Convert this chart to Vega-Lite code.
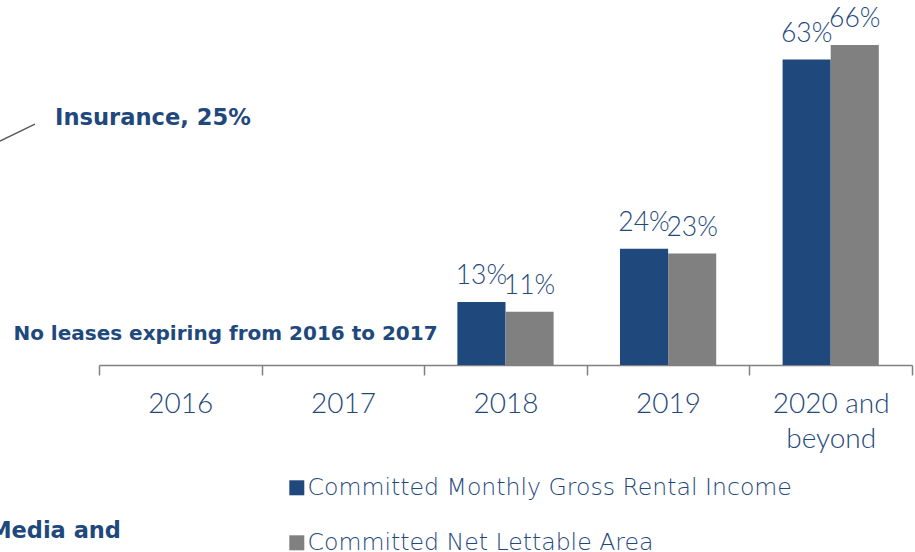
{
  "$schema": "https://vega.github.io/schema/vega-lite/v6.json",
  "autosize": {"type": "none"},
  "width": 813,
  "height": 365,
  "padding": {"left": 99, "top": 0, "right": 3, "bottom": 187},
  "background": "white",
  "config": {"view": {"stroke": null}, "font": "Lato"},
  "layer": [
    {
      "data": {"values": [
        {"period": "2016", "series": "Committed Monthly Gross Rental Income", "value": null},
        {"period": "2016", "series": "Committed Net Lettable Area", "value": null},
        {"period": "2017", "series": "Committed Monthly Gross Rental Income", "value": null},
        {"period": "2017", "series": "Committed Net Lettable Area", "value": null},
        {"period": "2018", "series": "Committed Monthly Gross Rental Income", "value": 0.13},
        {"period": "2018", "series": "Committed Net Lettable Area", "value": 0.11},
        {"period": "2019", "series": "Committed Monthly Gross Rental Income", "value": 0.24},
        {"period": "2019", "series": "Committed Net Lettable Area", "value": 0.23},
        {"period": "2020 and beyond", "series": "Committed Monthly Gross Rental Income", "value": 0.63},
        {"period": "2020 and beyond", "series": "Committed Net Lettable Area", "value": 0.66}
      ]},
      "encoding": {
        "x": {
          "field": "period", "type": "nominal",
          "sort": ["2016", "2017", "2018", "2019", "2020 and beyond"],
          "scale": {"padding": 0},
          "axis": {
            "title": null, "tickBand": "extent", "domainColor": "#808080", "tickColor": "#808080",
            "domainWidth": 1.5, "tickWidth": 1.5, "tickSize": 10, "labelAngle": 0,
            "labelFont": "Lato", "labelFontWeight": 300, "labelFontSize": 28, "labelColor": "#1F497D",
            "labelPadding": 15, "labelLineHeight": 35,
            "labelExpr": "datum.value == '2020 and beyond' ? ['2020 and', 'beyond'] : datum.value"
          }
        },
        "xOffset": {
          "field": "series", "type": "nominal",
          "scale": {"paddingInner": 0, "paddingOuter": 0.69}
        },
        "y": {
          "field": "value", "type": "quantitative",
          "scale": {"domain": [0, 0.753], "nice": false, "zero": true},
          "axis": null
        }
      },
      "layer": [
        {
          "mark": {"type": "bar"},
          "encoding": {
            "color": {
              "field": "series", "type": "nominal",
              "scale": {"range": ["#1F497D", "#808080"]},
              "legend": {
                "title": null, "orient": "none", "legendX": 186, "legendY": 476,
                "direction": "vertical", "symbolType": "square", "symbolSize": 225,
                "symbolStrokeWidth": 0, "symbolOpacity": 1,
                "labelFont": "DejaVu Sans", "labelFontWeight": 200, "labelFontSize": 23.6,
                "labelColor": "#1F497D", "labelOffset": -1, "rowPadding": 30, "labelLimit": 700
              }
            }
          }
        },
        {
          "mark": {"type": "text", "baseline": "bottom", "dy": -12, "font": "Lato", "fontWeight": 300, "fontSize": 26.5, "color": "#1F497D"},
          "encoding": {
            "text": {"field": "value", "type": "quantitative", "format": ".0%"}
          }
        }
      ]
    },
    {
      "data": {"values": [{"note": "No leases expiring from 2016 to 2017"}]},
      "mark": {"type": "text", "align": "center", "baseline": "middle", "font": "DejaVu Sans", "fontWeight": "bold", "fontSize": 20, "color": "#1F497D"},
      "encoding": {
        "x": {"datum": "2016", "bandPosition": 0.778},
        "y": {"datum": 0.064},
        "text": {"field": "note"}
      }
    },
    {
      "data": {"values": [{"note": "Insurance, 25%"}]},
      "mark": {"type": "text", "align": "left", "baseline": "middle", "font": "DejaVu Sans", "fontWeight": "bold", "fontSize": 22.6, "color": "#1F497D"},
      "encoding": {
        "x": {"datum": "2016", "bandPosition": -0.27},
        "y": {"datum": 0.5096},
        "text": {"field": "note"}
      }
    },
    {
      "data": {"values": [{"note": "Media and"}]},
      "mark": {"type": "text", "align": "right", "baseline": "middle", "font": "DejaVu Sans", "fontWeight": "bold", "fontSize": 22.5, "color": "#1F497D"},
      "encoding": {
        "x": {"datum": "2016", "bandPosition": 0.135},
        "y": {"datum": -0.3425},
        "text": {"field": "note"}
      }
    },
    {
      "data": {"values": [{"note": "leader"}]},
      "mark": {"type": "rule", "color": "#595959", "strokeWidth": 1.5},
      "encoding": {
        "x": {"datum": "2016", "bandPosition": -0.609},
        "x2": {"datum": "2016", "bandPosition": -0.394},
        "y": {"datum": 0.462},
        "y2": {"datum": 0.497}
      }
    }
  ]
}
